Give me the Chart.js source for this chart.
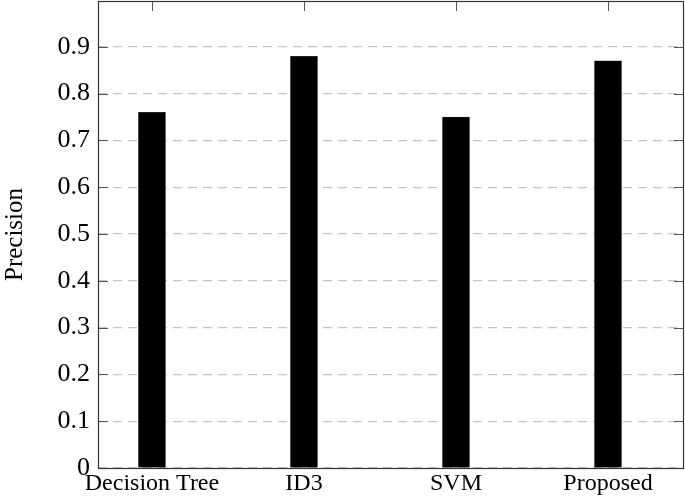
<!DOCTYPE html>
<html>
<head>
<meta charset="utf-8">
<script src="https://cdn.jsdelivr.net/npm/chart.js@4/dist/chart.umd.min.js"></script>
<style>
  html, body { margin: 0; padding: 0; background: #fff; }
  #wrap { width: 685px; height: 499px; }
</style>
</head>
<body>
<div id="wrap"><canvas id="myChart" width="685" height="499"></canvas></div>
<script>
const categories = ['Decision Tree', 'ID3', 'SVM', 'Proposed'];
const precision = [0.76, 0.88, 0.75, 0.87];
const yTicks = [0, 0.1, 0.2, 0.3, 0.4, 0.5, 0.6, 0.7, 0.8, 0.9];

const serif = "'Liberation Serif', 'DejaVu Serif', serif";

// frame + inner tick marks, like pgfplots
const framePlugin = {
  id: 'frame',
  afterDraw(chart) {
    const ctx = chart.ctx;
    const a = chart.chartArea;
    const xs = chart.scales.x, ys = chart.scales.y;
    ctx.save();
    ctx.strokeStyle = '#555';
    ctx.lineWidth = 1;
    ctx.beginPath();
    // top ticks at the category positions
    categories.forEach((c, i) => {
      const px = Math.round(xs.getPixelForValue(i)) + 0.5;
      ctx.moveTo(px, a.top);
      ctx.lineTo(px, a.top + 10);
    });
    // left / right ticks
    yTicks.forEach(v => {
      const py = Math.round(ys.getPixelForValue(v)) + 0.5;
      ctx.moveTo(a.left, py);
      ctx.lineTo(a.left + 10, py);
      ctx.moveTo(a.right, py);
      ctx.lineTo(a.right - 10, py);
    });
    ctx.stroke();
    ctx.strokeStyle = '#333';
    ctx.lineWidth = 1.2;
    ctx.strokeRect(Math.round(a.left) + 0.5, Math.round(a.top) + 0.5,
      Math.round(a.right - a.left) - 1, Math.round(a.bottom - a.top));
    ctx.restore();
  }
};

new Chart(document.getElementById('myChart'), {
  type: 'bar',
  data: {
    datasets: [{
      label: 'Precision',
      data: precision.map((v, i) => ({ x: i, y: v })),
      backgroundColor: '#000',
      borderColor: '#444',
      borderWidth: 0.5,
      barThickness: 27
    }]
  },
  options: {
    responsive: false,
    animation: false,
    layout: { padding: { top: 1, right: 1, left: 0, bottom: 0 } },
    plugins: { legend: { display: false }, tooltip: { enabled: false } },
    scales: {
      x: {
        type: 'linear',
        offset: false,
        min: -0.355,
        max: 3.5,
        afterBuildTicks: s => { s.ticks = categories.map((c, i) => ({ value: i })); },
        afterFit: s => { s.height = 31; },
        grid: { display: false, drawTicks: false, offset: false },
        border: { display: false },
        ticks: {
          padding: 1,
          maxRotation: 0,
          autoSkip: false,
          color: '#000',
          font: { family: serif, size: 24 },
          callback: v => categories[v]
        }
      },
      y: {
        min: 0,
        max: 0.998,
        afterBuildTicks: s => { s.ticks = yTicks.map(v => ({ value: v })); },
        afterFit: s => { s.width = 98; s.paddingTop = 0; },
        grid: {
          color: '#c4c4c4',
          lineWidth: 1.2,
          drawTicks: false
        },
        border: { display: false, dash: [9, 6] },
        ticks: {
          padding: 8,
          color: '#000',
          font: { family: serif, size: 26 },
          callback: v => (v === 0 ? '0' : v.toFixed(1))
        },
        title: {
          display: true,
          text: 'Precision',
          color: '#000',
          font: { family: serif, size: 25 },
          padding: { top: 0, bottom: 0 }
        }
      }
    }
  },
  plugins: [framePlugin]
});
</script>
</body>
</html>
